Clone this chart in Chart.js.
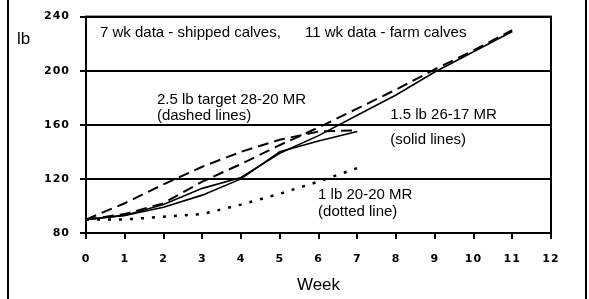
<!DOCTYPE html>
<html>
<head>
<meta charset="utf-8">
<script src="https://cdn.jsdelivr.net/npm/chart.js@4/dist/chart.umd.min.js"></script>
<style>
  html, body { margin: 0; padding: 0; background: #fff; }
  #frame {
    position: absolute; left: 7px; top: 0; width: 576px; height: 299px;
    border-left: 2px solid #000; border-right: 2px solid #000;
  }
  #grafica { position: absolute; left: 0; top: 0; }
</style>
</head>
<body>
<div id="frame"></div>
<canvas id="grafica" width="589" height="299"></canvas>
<script>
// ── Datos ──
const semanas7 = [0, 1, 2, 3, 4, 5, 6, 7];
const semanas11 = [0, 1, 2, 3, 4, 5, 6, 7, 8, 9, 10, 11];

// 2.5 lb target 28-20 MR (dashed)
const dashedShipped = [90, 102, 116, 129, 140, 149, 155, 156];
const dashedFarm = [90, 94, 102, 118, 131, 145, 158, 172, 186, 201, 215, 230];
// 1.5 lb 26-17 MR (solid)
const solidShipped = [90, 93, 99, 108, 120, 140, 148, 155];
const solidFarm = [90, 93, 101, 113, 121, 139, 152, 167, 182, 199, 214, 229];
// 1 lb 20-20 MR (dotted)
const dottedShipped = [90, 90, 92, 94, 101, 109, 118, 128];

const yTicks = [80, 120, 160, 200, 240];

// texto, semana, lb
const notas = [
  ['7 wk data - shipped calves,', 0.36, 228],
  ['11 wk data - farm calves', 5.65, 228],
  ['2.5 lb target 28-20 MR', 1.83, 178.5],
  ['(dashed lines)', 1.83, 166.5],
  ['1.5 lb 26-17 MR', 7.85, 167],
  ['(solid lines)', 7.85, 149],
  ['1 lb 20-20 MR', 5.99, 108],
  ['(dotted line)', 5.99, 95.5],
];

const puntos = (xs, ys) => xs.map((x, i) => ({ x, y: ys[i] }));

function serie(label, xs, ys, dash, width) {
  return {
    label,
    data: puntos(xs, ys),
    borderColor: '#000',
    borderWidth: width,
    borderDash: dash,
    pointRadius: 0,
    tension: 0,
    fill: false,
  };
}

const notasPlugin = {
  id: 'notas',
  beforeDraw(chart) {
    chart.ctx.letterSpacing = '1px';
  },
  beforeDatasetsDraw(chart) {
    chart.ctx.letterSpacing = '0px';
  },
  afterDraw(chart) {
    const { ctx, chartArea: a, scales: { x, y } } = chart;
    ctx.save();
    ctx.strokeStyle = '#000';
    ctx.lineWidth = 2;
    ctx.strokeRect(a.left, a.top, a.right - a.left, a.bottom - a.top);

    ctx.fillStyle = '#000';
    ctx.textBaseline = 'middle';
    ctx.textAlign = 'left';
    ctx.font = '15px "Liberation Sans", Arial, sans-serif';
    for (const [t, sx, sy] of notas) {
      ctx.fillText(t, x.getPixelForValue(sx), y.getPixelForValue(sy));
    }
    ctx.font = '17px "Liberation Sans", Arial, sans-serif';
    ctx.fillText('lb', 17, 39);
    ctx.textAlign = 'center';
    ctx.fillText('Week', (a.left + a.right) / 2, 285);
    ctx.restore();
  },
};

new Chart(document.getElementById('grafica').getContext('2d'), {
  type: 'line',
  data: {
    datasets: [
      serie('2.5 lb shipped', semanas7, dashedShipped, [11, 6], 2),
      serie('2.5 lb farm', semanas11, dashedFarm, [11, 6], 2),
      serie('1.5 lb shipped', semanas7, solidShipped, [], 1.6),
      serie('1.5 lb farm', semanas11, solidFarm, [], 1.6),
      serie('1 lb shipped', semanas7, dottedShipped, [3, 8], 2.5),
    ],
  },
  options: {
    responsive: false,
    animation: false,
    devicePixelRatio: 1,
    layout: { padding: { top: 14, right: 38, left: 0, bottom: 0 } },
    plugins: { legend: { display: false }, tooltip: { enabled: false } },
    scales: {
      x: {
        type: 'linear',
        min: 0,
        max: 12,
        afterFit: (s) => { s.height = 66; },
        ticks: {
          stepSize: 1,
          color: '#000',
          padding: 14,
          font: { family: 'DejaVu Sans', weight: 'bold', size: 11 },
        },
        grid: { drawOnChartArea: false, color: '#000', lineWidth: 2, tickLength: 6 },
        border: { color: '#000', width: 2 },
      },
      y: {
        min: 80,
        max: 240,
        afterFit: (s) => { s.width = 86; },
        afterBuildTicks: (s) => { s.ticks = yTicks.map(v => ({ value: v })); },
        ticks: {
          color: '#000',
          padding: 10,
          font: { family: 'DejaVu Sans', weight: 'bold', size: 11 },
        },
        grid: { color: '#000', lineWidth: 2, tickLength: 6 },
        border: { color: '#000', width: 2 },
      },
    },
  },
  plugins: [notasPlugin],
});
</script>
</body>
</html>
